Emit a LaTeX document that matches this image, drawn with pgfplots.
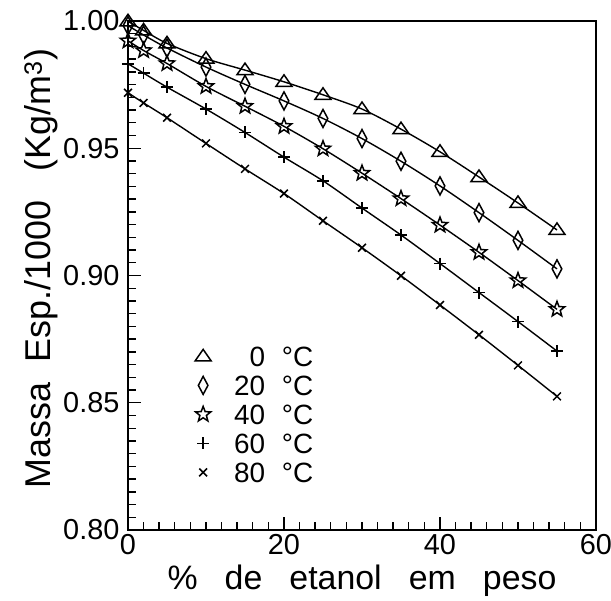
\documentclass[border=0pt]{standalone}
\usepackage{fontspec}
\setmainfont{Liberation Sans}
\usepackage{pgfplots}
\usepackage{pgfplotstable}
\pgfplotsset{compat=1.18}

\pgfdeclareplotmark{otri}{%
  \pgfpathmoveto{\pgfpoint{0bp}{7bp}}%
  \pgfpathlineto{\pgfpoint{8bp}{-4.5bp}}%
  \pgfpathlineto{\pgfpoint{-8bp}{-4.5bp}}%
  \pgfpathclose\pgfusepathqstroke}
\pgfdeclareplotmark{odia}{%
  \pgfpathmoveto{\pgfpoint{0bp}{9bp}}%
  \pgfpathlineto{\pgfpoint{4.8bp}{0bp}}%
  \pgfpathlineto{\pgfpoint{0bp}{-9bp}}%
  \pgfpathlineto{\pgfpoint{-4.8bp}{0bp}}%
  \pgfpathclose\pgfusepathqstroke}
\pgfdeclareplotmark{ostar}{%
  \pgfpathmoveto{\pgfpointpolar{90}{8bp}}%
  \pgfpathlineto{\pgfpointpolar{126}{3.4bp}}%
  \pgfpathlineto{\pgfpointpolar{162}{8bp}}%
  \pgfpathlineto{\pgfpointpolar{198}{3.4bp}}%
  \pgfpathlineto{\pgfpointpolar{234}{8bp}}%
  \pgfpathlineto{\pgfpointpolar{270}{3.4bp}}%
  \pgfpathlineto{\pgfpointpolar{306}{8bp}}%
  \pgfpathlineto{\pgfpointpolar{342}{3.4bp}}%
  \pgfpathlineto{\pgfpointpolar{18}{8bp}}%
  \pgfpathlineto{\pgfpointpolar{54}{3.4bp}}%
  \pgfpathclose\pgfusepathqstroke}

\pgfplotstableread{
x    t0     t20    t40    t60    t80
0    0.9999 0.9982 0.9922 0.9832 0.9718
2    0.9963 0.9945 0.9884 0.9795 0.9678
5    0.9912 0.9894 0.9833 0.9740 0.9620
10   0.9852 0.9819 0.9743 0.9654 0.9519
15   0.9807 0.9751 0.9665 0.9562 0.9419
20   0.9761 0.9686 0.9586 0.9465 0.9322
25   0.9710 0.9617 0.9498 0.9372 0.9215
30   0.9654 0.9538 0.9402 0.9265 0.9109
35   0.9575 0.9449 0.9302 0.9159 0.8999
40   0.9486 0.9352 0.9198 0.9047 0.8884
45   0.9387 0.9247 0.9091 0.8933 0.8767
50   0.9285 0.9138 0.8980 0.8819 0.8647
55   0.9179 0.9026 0.8867 0.8703 0.8525
}\dens

\begin{document}
\begin{tikzpicture}
\useasboundingbox (-128bp,-71bp) rectangle (483bp,530bp);
\begin{axis}[
  at={(0,0)}, anchor=south west,
  scale only axis, width=468bp, height=509bp,
  xmin=0, xmax=60, ymin=0.80, ymax=1.00,
  xtick={0,20,40,60}, ytick={0.80,0.85,0.90,0.95,1.00},
  minor x tick num=9, minor y tick num=9,
  tick pos=left, tick align=inside,
  major tick length=13bp, minor tick length=8bp,
  every tick/.style={black, line width=1.4bp},
  axis line style={line width=1.6bp},
  /pgf/number format/assume math mode=true,
  yticklabel style={/pgf/number format/fixed, /pgf/number format/fixed zerofill,
    /pgf/number format/precision=2,
    font=\fontsize{29}{32}\selectfont, xshift=-5bp},
  xticklabel style={font=\fontsize{29}{32}\selectfont, anchor=north, inner sep=0pt, yshift=-4bp},
  xlabel={\%\hspace{0.8em}de\hspace{0.8em}etanol\hspace{0.8em}em\hspace{0.8em}peso},
  ylabel={Massa\ \ Esp./1000\ \ \ (Kg/m\textsuperscript{3})},
  xlabel style={font=\fontsize{34}{36}\selectfont, at={(axis description cs:0.5,0)}, anchor=base, inner sep=0pt, yshift=-59bp},
  ylabel style={font=\fontsize{36}{40}\selectfont, yshift=-2bp, xshift=7bp},
  legend style={draw=none, fill=none, at={(axis cs:8.2,0.8734)}, anchor=north west,
    font=\fontsize{28}{30}\selectfont,
    nodes={inner sep=1bp, text height=20bp, text depth=0bp},
    row sep=7bp},
  legend cell align=left,
]
\addplot[smooth, black, line width=1.4bp, forget plot] table[x=x, y=t0] {\dens};
\addplot[smooth, black, line width=1.4bp, forget plot] table[x=x, y=t20] {\dens};
\addplot[smooth, black, line width=1.4bp, forget plot] table[x=x, y=t40] {\dens};
\addplot[smooth, black, line width=1.4bp, forget plot] table[x=x, y=t60] {\dens};
\addplot[smooth, black, line width=1.4bp, forget plot] table[x=x, y=t80] {\dens};
\addplot[only marks, black, mark=otri, mark options={line width=1.5bp}] table[x=x, y=t0] {\dens};
\addlegendentry{\makebox[1.9em][r]{0}\hspace{0.6em}°C}
\addplot[only marks, black, mark=odia, mark options={line width=1.5bp}] table[x=x, y=t20] {\dens};
\addlegendentry{\makebox[1.9em][r]{20}\hspace{0.6em}°C}
\addplot[only marks, black, mark=ostar, mark options={line width=1.5bp}] table[x=x, y=t40] {\dens};
\addlegendentry{\makebox[1.9em][r]{40}\hspace{0.6em}°C}
\addplot[only marks, black, mark=+, mark size=6bp, mark options={line width=1.5bp}] table[x=x, y=t60] {\dens};
\addlegendentry{\makebox[1.9em][r]{60}\hspace{0.6em}°C}
\addplot[only marks, black, mark=x, mark size=5.5bp, mark options={line width=1.5bp}] table[x=x, y=t80] {\dens};
\addlegendentry{\makebox[1.9em][r]{80}\hspace{0.6em}°C}
\end{axis}
\end{tikzpicture}
\end{document}
